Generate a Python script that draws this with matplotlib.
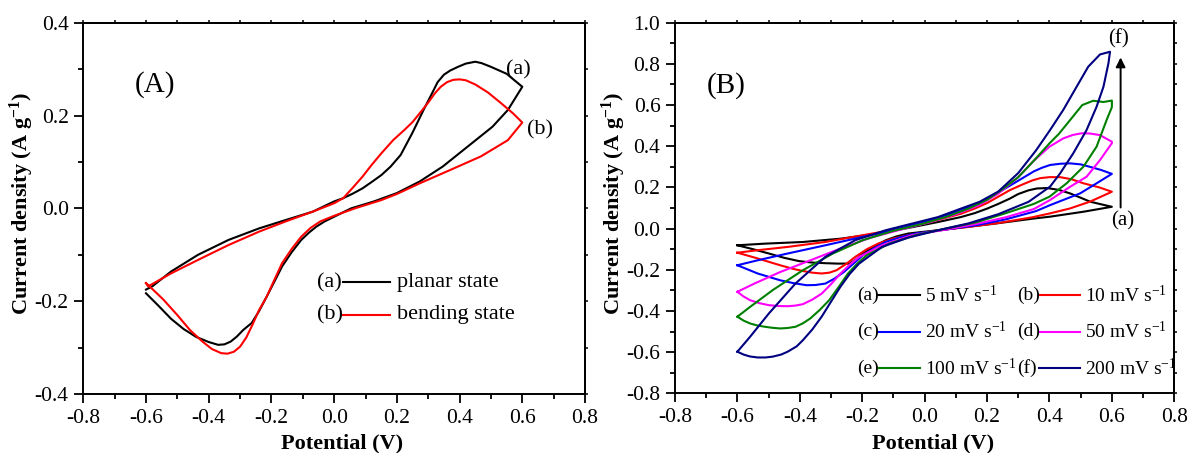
import numpy as np
import matplotlib
matplotlib.use('Agg')
import matplotlib.pyplot as plt
from matplotlib.ticker import MultipleLocator, FormatStrFormatter

plt.rcParams['font.family'] = ['Liberation Serif', 'DejaVu Serif']
plt.rcParams['font.size'] = 16
plt.rcParams['axes.unicode_minus'] = False
plt.rcParams['mathtext.default'] = 'regular'
plt.rcParams['axes.linewidth'] = 1.4

# ---- panel A : planar vs bending ----
planar_v = [-0.60, -0.56, -0.52, -0.48, -0.44, -0.40, -0.37, -0.35, -0.33, -0.31, -0.29, -0.263, -0.24, -0.215,
            -0.19, -0.166, -0.135, -0.105, -0.08, -0.056, -0.03, 0.0,
            0.054, 0.127, 0.20, 0.273, 0.346, 0.42, 0.505, 0.554, 0.60,
            0.55, 0.50, 0.47, 0.45, 0.42, 0.395, 0.37, 0.35, 0.33, 0.31, 0.285, 0.249, 0.212, 0.18, 0.151,
            0.12, 0.09, 0.06, 0.029, 0.0,
            -0.068, -0.154, -0.239, -0.337, -0.434, -0.52, -0.58, -0.60]
planar_j = [-0.183, -0.21, -0.238, -0.26, -0.277, -0.288, -0.294, -0.293, -0.287, -0.276, -0.262, -0.247, -0.222, -0.19,
            -0.157, -0.125, -0.094, -0.068, -0.052, -0.039, -0.028, -0.018,
            0.0, 0.015, 0.033, 0.058, 0.09, 0.13, 0.176, 0.212, 0.262,
            0.29, 0.305, 0.313, 0.316, 0.312, 0.305, 0.297, 0.288, 0.272, 0.245, 0.212, 0.162, 0.115, 0.09, 0.072,
            0.057, 0.043, 0.032, 0.022, 0.015,
            -0.007, -0.025, -0.043, -0.068, -0.10, -0.136, -0.168, -0.175]

bending_v = [-0.60, -0.57, -0.544, -0.50, -0.46, -0.42, -0.39, -0.36, -0.34, -0.32, -0.30, -0.28, -0.26, -0.24, -0.215,
             -0.19, -0.166, -0.135, -0.105, -0.075, -0.044, 0.0,
             0.066, 0.151, 0.20, 0.273, 0.371, 0.468, 0.554, 0.60,
             0.57, 0.53, 0.49, 0.45, 0.42, 0.40, 0.38, 0.36, 0.34, 0.32, 0.30, 0.273, 0.25, 0.224, 0.188, 0.151,
             0.12, 0.09, 0.06, 0.029, 0.0,
             -0.068, -0.154, -0.239, -0.337, -0.434, -0.52, -0.593, -0.60]
bending_j = [-0.161, -0.18, -0.197, -0.23, -0.262, -0.287, -0.303, -0.312, -0.313, -0.309, -0.298, -0.278, -0.25, -0.22, -0.19,
             -0.153, -0.118, -0.087, -0.061, -0.042, -0.028, -0.016,
             0.0, 0.018, 0.031, 0.054, 0.083, 0.112, 0.147, 0.185,
             0.205, 0.228, 0.25, 0.267, 0.276, 0.278, 0.277, 0.272, 0.262, 0.247, 0.228, 0.205, 0.186, 0.169, 0.147, 0.119,
             0.094, 0.068, 0.045, 0.022, 0.011,
             -0.007, -0.028, -0.05, -0.079, -0.111, -0.14, -0.168, -0.161]

# ---- panel B : scan rates ----
v5_x = [-0.60, -0.55, -0.499, -0.45, -0.402, -0.36, -0.318, -0.28, -0.24, -0.22, -0.198, -0.16, -0.125, -0.09, -0.053,
        0.0, 0.043, 0.116, 0.224, 0.345, 0.402, 0.509, 0.60,
        0.56, 0.53, 0.50, 0.466, 0.43, 0.393, 0.36, 0.333, 0.30, 0.272, 0.236, 0.20, 0.16, 0.116, 0.043,
        -0.053, -0.149, -0.27, -0.39, -0.511, -0.60]
v5_y = [-0.081, -0.10, -0.121, -0.142, -0.158, -0.165, -0.168, -0.17, -0.17, -0.15, -0.121, -0.085, -0.057, -0.038, -0.024,
        -0.015, -0.008, 0.005, 0.024, 0.048, 0.058, 0.082, 0.106,
        0.12, 0.131, 0.15, 0.171, 0.188, 0.197, 0.195, 0.186, 0.168, 0.145, 0.12, 0.097, 0.075, 0.056, 0.032,
        0.003, -0.024, -0.049, -0.065, -0.073, -0.081]

v10_x = [-0.60, -0.535, -0.463, -0.42, -0.39, -0.36, -0.33, -0.305, -0.282, -0.25, -0.222, -0.185, -0.149, -0.10, -0.053,
         0.043, 0.14, 0.236, 0.345, 0.402, 0.466, 0.53, 0.60,
         0.56, 0.509, 0.47, 0.434, 0.40, 0.37, 0.345, 0.31, 0.272, 0.236, 0.20, 0.16, 0.116, 0.019,
         -0.077, -0.198, -0.318, -0.439, -0.535, -0.60]
v10_y = [-0.117, -0.145, -0.178, -0.196, -0.206, -0.214, -0.218, -0.214, -0.202, -0.17, -0.137, -0.10, -0.073, -0.048, -0.032,
         -0.008, 0.008, 0.027, 0.055, 0.074, 0.098, 0.131, 0.179,
         0.20, 0.22, 0.24, 0.25, 0.25, 0.245, 0.234, 0.212, 0.186, 0.155, 0.124, 0.097, 0.072, 0.032,
         0.0, -0.032, -0.065, -0.089, -0.105, -0.117]

v20_x = [-0.60, -0.535, -0.463, -0.42, -0.378, -0.35, -0.318, -0.29, -0.258, -0.228, -0.198, -0.16, -0.125, -0.08, -0.029,
         0.067, 0.164, 0.26, 0.357, 0.402, 0.444, 0.498, 0.551, 0.60,
         0.565, 0.53, 0.50, 0.466, 0.434, 0.402, 0.375, 0.35, 0.308, 0.236, 0.164, 0.08,
         -0.005, -0.101, -0.198, -0.318, -0.439, -0.535, -0.60]
v20_y = [-0.178, -0.218, -0.251, -0.265, -0.275, -0.274, -0.267, -0.244, -0.21, -0.17, -0.13, -0.094, -0.065, -0.043, -0.024,
         -0.005, 0.016, 0.045, 0.085, 0.114, 0.139, 0.171, 0.22, 0.266,
         0.285, 0.30, 0.312, 0.317, 0.315, 0.309, 0.295, 0.278, 0.24, 0.175, 0.115, 0.07,
         0.032, -0.008, -0.04, -0.081, -0.121, -0.154, -0.178]

v50_x = [-0.60, -0.58, -0.559, -0.53, -0.499, -0.47, -0.439, -0.414, -0.39, -0.36, -0.33, -0.30, -0.27, -0.24, -0.21,
         -0.137, -0.041, 0.067, 0.164, 0.26, 0.35, 0.402, 0.466, 0.519, 0.562, 0.60,
         0.60, 0.562, 0.53, 0.503, 0.475, 0.444, 0.40, 0.35, 0.30, 0.236, 0.176, 0.104, 0.019,
         -0.077, -0.173, -0.27, -0.366, -0.463, -0.547, -0.60]
v50_y = [-0.307, -0.33, -0.348, -0.362, -0.372, -0.376, -0.377, -0.374, -0.367, -0.345, -0.316, -0.27, -0.219, -0.175, -0.138,
         -0.081, -0.032, -0.005, 0.022, 0.055, 0.095, 0.139, 0.203, 0.252, 0.333, 0.415,
         0.422, 0.454, 0.462, 0.463, 0.455, 0.438, 0.398, 0.33, 0.25, 0.17, 0.115, 0.072, 0.032,
         -0.005, -0.044, -0.097, -0.154, -0.211, -0.268, -0.307]

v100_x = [-0.60, -0.58, -0.559, -0.535, -0.511, -0.487, -0.463, -0.44, -0.414, -0.39, -0.366, -0.336, -0.306, -0.276,
          -0.246, -0.216, -0.186, -0.113, -0.029, 0.067, 0.164, 0.26, 0.35, 0.40, 0.455, 0.509, 0.551, 0.583, 0.60,
          0.60, 0.573, 0.54, 0.505, 0.466, 0.43, 0.40, 0.35, 0.30, 0.248, 0.20, 0.14, 0.067,
          -0.005, -0.101, -0.198, -0.294, -0.39, -0.487, -0.559, -0.60]
v100_y = [-0.428, -0.447, -0.461, -0.471, -0.477, -0.482, -0.485, -0.483, -0.477, -0.46, -0.436, -0.395, -0.348, -0.285,
          -0.219, -0.17, -0.13, -0.073, -0.032, 0.0, 0.03, 0.075, 0.12, 0.155, 0.22, 0.301, 0.398, 0.527, 0.59,
          0.622, 0.615, 0.621, 0.60, 0.527, 0.46, 0.414, 0.33, 0.25, 0.19, 0.14, 0.097, 0.056,
          0.024, -0.011, -0.056, -0.121, -0.202, -0.299, -0.38, -0.428]

v200_x = [-0.60, -0.58, -0.56, -0.535, -0.51, -0.487, -0.46, -0.439, -0.41, -0.39, -0.36, -0.33, -0.30, -0.27, -0.24,
          -0.21, -0.137, -0.053, 0.043, 0.14, 0.236, 0.333, 0.402, 0.434, 0.476, 0.519, 0.551, 0.573, 0.589, 0.594,
          0.562, 0.524, 0.487, 0.444, 0.402, 0.357, 0.30, 0.236, 0.176, 0.116, 0.043,
          -0.041, -0.125, -0.222, -0.318, -0.414, -0.499, -0.559, -0.60]
v200_y = [-0.598, -0.612, -0.621, -0.626, -0.626, -0.622, -0.612, -0.598, -0.572, -0.542, -0.49, -0.428, -0.355, -0.283, -0.22,
          -0.17, -0.089, -0.044, -0.008, 0.025, 0.07, 0.13, 0.204, 0.268, 0.365, 0.479, 0.592, 0.689, 0.803, 0.859,
          0.846, 0.786, 0.689, 0.576, 0.479, 0.38, 0.27, 0.18, 0.13, 0.097, 0.056,
          0.024, -0.008, -0.056, -0.137, -0.267, -0.412, -0.525, -0.598]

rate_labels = ['5 mV s$^{-1}$', '10 mV s$^{-1}$', '20 mV s$^{-1}$', '50 mV s$^{-1}$', '100 mV s$^{-1}$', '200 mV s$^{-1}$']
rate_tags = ['(a)', '(b)', '(c)', '(d)', '(e)', '(f)']
rate_colors = ['#000000', '#ff0000', '#0000ff', '#ff00ff', '#008000', '#000080']
rate_x = [v5_x, v10_x, v20_x, v50_x, v100_x, v200_x]
rate_y = [v5_y, v10_y, v20_y, v50_y, v100_y, v200_y]

fig = plt.figure(figsize=(11.9, 4.53), dpi=100)
axA = fig.add_axes([0.0700, 0.1302, 0.4216, 0.8196])
axB = fig.add_axes([0.5672, 0.1318, 0.4196, 0.8180])


def style_axes(ax, ylim, ystep):
    ax.set_xlim(-0.8, 0.8)
    ax.set_ylim(*ylim)
    ax.xaxis.set_major_locator(MultipleLocator(0.2))
    ax.xaxis.set_minor_locator(MultipleLocator(0.1))
    ax.yaxis.set_major_locator(MultipleLocator(ystep))
    ax.yaxis.set_minor_locator(MultipleLocator(0.1))
    ax.xaxis.set_major_formatter(FormatStrFormatter('%.1f'))
    ax.yaxis.set_major_formatter(FormatStrFormatter('%.1f'))
    ax.tick_params(which='both', direction='out', width=1.3, labelsize=15.5)
    ax.tick_params(which='major', length=6.5, pad=4)
    ax.tick_params(which='minor', length=3.6)
    # short ticks on top / right
    top = ax.secondary_xaxis('top')
    top.xaxis.set_major_locator(MultipleLocator(0.1))
    top.tick_params(direction='out', length=2.5, width=1.1, labeltop=False)
    right = ax.secondary_yaxis('right')
    right.yaxis.set_major_locator(MultipleLocator(0.1))
    right.tick_params(direction='out', length=2.5, width=1.1, labelright=False)
    ax.set_xlabel('Potential (V)', fontsize=16, fontweight='bold')
    ax.set_ylabel('Current density (A g$^{-1}$)', fontsize=16, fontweight='bold')
    ax.xaxis.label.set_va('baseline')
    ax.xaxis.set_label_coords(0.516, -0.148)
    ax.yaxis.label.set_va('center')
    ax.yaxis.set_label_coords(-0.122, 0.513)


# panel A
style_axes(axA, (-0.4, 0.4), 0.2)
axA.plot(planar_v, planar_j, color='#000000', lw=1.5)
axA.plot(bending_v, bending_j, color='#ff0000', lw=1.5)
axA.text(-0.635, 0.266, '(A)', fontsize=21, ha='left', va='center')
axA.text(0.548, 0.298, '(a)', fontsize=16, ha='left', va='center')
axA.text(0.615, 0.169, '(b)', fontsize=16, ha='left', va='center')

leg_rows = [0.3005, 0.214]
for tag, lab, col, yy in zip(['(a)', '(b)'], ['planar state', 'bending state'], ['#000000', '#ff0000'], leg_rows):
    axA.text(0.465, yy, tag, transform=axA.transAxes, ha='left', va='center', fontsize=16)
    axA.plot([0.518, 0.611], [yy, yy], transform=axA.transAxes, color=col, lw=1.5)
    axA.text(0.625, yy, lab, transform=axA.transAxes, ha='left', va='center', fontsize=16)

# panel B
style_axes(axB, (-0.8, 1.0), 0.2)
for xs, ys, col in zip(rate_x, rate_y, rate_colors):
    axB.plot(xs, ys, color=col, lw=1.5)
axB.text(-0.698, 0.695, '(B)', fontsize=21, ha='left', va='center')
axB.annotate('', xy=(0.628, 0.845), xytext=(0.628, 0.089),
             arrowprops=dict(arrowstyle='-|>', color='k', lw=1.4, mutation_scale=14))
axB.text(0.622, 0.921, '(f)', fontsize=15, ha='center', va='center')
axB.text(0.634, 0.037, '(a)', fontsize=15, ha='center', va='center')

row_y = [0.265, 0.166, 0.0675]
col_tag = [0.364, 0.686]
col_line = [(0.407, 0.491), (0.729, 0.812)]
col_txt = [0.501, 0.821]
for i, (tag, lab, col) in enumerate(zip(rate_tags, rate_labels, rate_colors)):
    r, c = i // 2, i % 2
    yy = row_y[r]
    axB.text(col_tag[c], yy, tag, transform=axB.transAxes, ha='left', va='center', fontsize=14)
    axB.plot(col_line[c], [yy, yy], transform=axB.transAxes, color=col, lw=1.5)
    axB.text(col_txt[c], yy, lab, transform=axB.transAxes, ha='left', va='center', fontsize=14)

fig.savefig('out.png', dpi=100)
